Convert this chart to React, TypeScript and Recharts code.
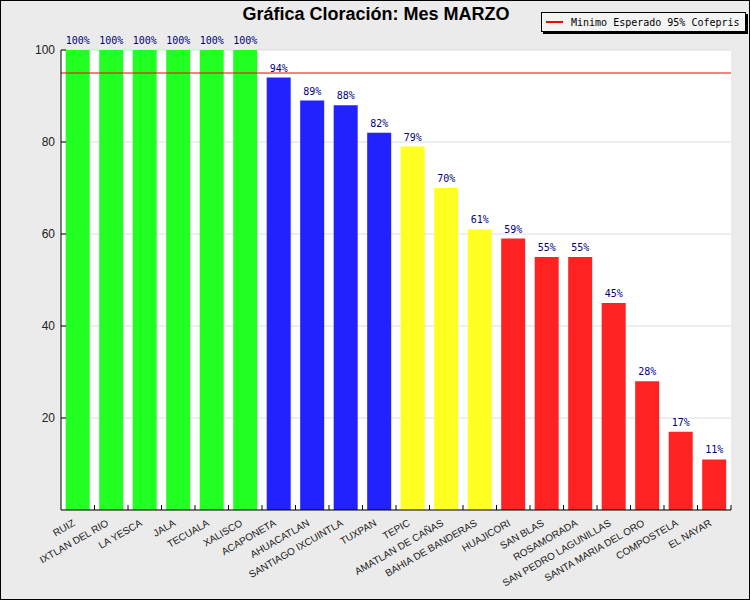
import {
  BarChart,
  Bar,
  XAxis,
  YAxis,
  CartesianGrid,
  Cell,
  LabelList,
  ReferenceLine,
} from "recharts";

const categories = [
  "RUIZ",
  "IXTLAN DEL RIO",
  "LA YESCA",
  "JALA",
  "TECUALA",
  "XALISCO",
  "ACAPONETA",
  "AHUACATLAN",
  "SANTIAGO IXCUINTLA",
  "TUXPAN",
  "TEPIC",
  "AMATLAN DE CAÑAS",
  "BAHIA DE BANDERAS",
  "HUAJICORI",
  "SAN BLAS",
  "ROSAMORADA",
  "SAN PEDRO LAGUNILLAS",
  "SANTA MARIA DEL ORO",
  "COMPOSTELA",
  "EL NAYAR",
];

const values = [100, 100, 100, 100, 100, 100, 94, 89, 88, 82, 79, 70, 61, 59, 55, 55, 45, 28, 17, 11];

const barColors = [
  "#22ff22", "#22ff22", "#22ff22", "#22ff22", "#22ff22", "#22ff22",
  "#2222ff", "#2222ff", "#2222ff", "#2222ff",
  "#ffff22", "#ffff22", "#ffff22",
  "#ff2222", "#ff2222", "#ff2222", "#ff2222", "#ff2222", "#ff2222", "#ff2222",
];

const yTicks = [20, 40, 60, 80, 100];
const minimo = 95;

const data = categories.map((name, i) => ({ name, value: values[i] }));

const BAND = 670 / categories.length;

function XTick(props: any) {
  const { x, y, payload } = props;
  const tx = x - 2;
  const ty = y + 15;
  return (
    <g>
      <line x1={x + BAND / 2} y1={y} x2={x + BAND / 2} y2={y - 5} stroke="#000" />
      <text
        x={tx}
        y={ty}
        textAnchor="end"
        transform={`rotate(-30, ${tx}, ${ty})`}
        fontSize={10}
        fontFamily="Liberation Sans, Arial, sans-serif"
        fill="#1a1a1a"
      >
        {payload.value}
      </text>
    </g>
  );
}

function YTick(props: any) {
  const { x, y, payload } = props;
  return (
    <g>
      <line x1={x} y1={y} x2={x + 5} y2={y} stroke="#000" />
      <text
        x={x - 6}
        y={y + 4}
        textAnchor="end"
        fontSize={12}
        fontFamily="Liberation Sans, Arial, sans-serif"
        fill="#222"
      >
        {payload.value}
      </text>
    </g>
  );
}

export default function App() {
  return (
    <div
      style={{
        position: "relative",
        width: 750,
        height: 600,
        background: "#ebebeb",
        border: "1px solid #000",
        boxSizing: "border-box",
      }}
    >
      <style>{`body{margin:0}`}</style>
      <div
        style={{
          position: "absolute",
          top: 3,
          left: 0,
          width: 750,
          textAlign: "center",
          fontFamily: "Liberation Sans, Arial, sans-serif",
          fontWeight: "bold",
          fontSize: 18,
          color: "#000",
        }}
      >
        Gráfica Cloración: Mes MARZO
      </div>
      <div
        style={{
          position: "absolute",
          top: 11,
          left: 540,
          width: 205,
          height: 20,
          background: "#f4f4f4",
          border: "1px solid #000",
          boxShadow: "2px 2px 0 #000",
          display: "flex",
          alignItems: "center",
          fontFamily: "DejaVu Sans Mono, monospace",
          fontSize: 10,
          color: "#000",
          boxSizing: "border-box",
        }}
      >
        <span
          style={{
            display: "inline-block",
            width: 17,
            height: 2,
            background: "#ff0000",
            marginLeft: 4,
            marginRight: 8,
          }}
        />
        Minimo Esperado 95% Cofepris
      </div>
      <div style={{ position: "absolute", top: -1, left: -1 }}>
        <BarChart
          width={750}
          height={600}
          data={data}
          margin={{ top: 50, right: 19, left: 0, bottom: 0 }}
          barCategoryGap="14%"
        >
          <CartesianGrid vertical={false} stroke="#dddddd" fill="#ffffff" />
          <XAxis
            dataKey="name"
            interval={0}
            height={90}
            tickSize={0}
            tickMargin={0}
            tick={<XTick />}
            axisLine={{ stroke: "#000" }}
          />
          <YAxis
            domain={[0, 100]}
            ticks={yTicks}
            width={61}
            tickSize={0}
            tickMargin={0}
            tick={<YTick />}
            axisLine={{ stroke: "#000" }}
          />
          <Bar dataKey="value" isAnimationActive={false}>
            {data.map((d, i) => (
              <Cell key={d.name} fill={barColors[i]} />
            ))}
            <LabelList
              dataKey="value"
              position="top"
              offset={6}
              formatter={(v: any) => `${v}%`}
              fill="#000080"
              fontSize={10}
              fontFamily="DejaVu Sans Mono, monospace"
            />
          </Bar>
          <ReferenceLine y={minimo} stroke="#ff0000" strokeWidth={1} />
        </BarChart>
      </div>
    </div>
  );
}
